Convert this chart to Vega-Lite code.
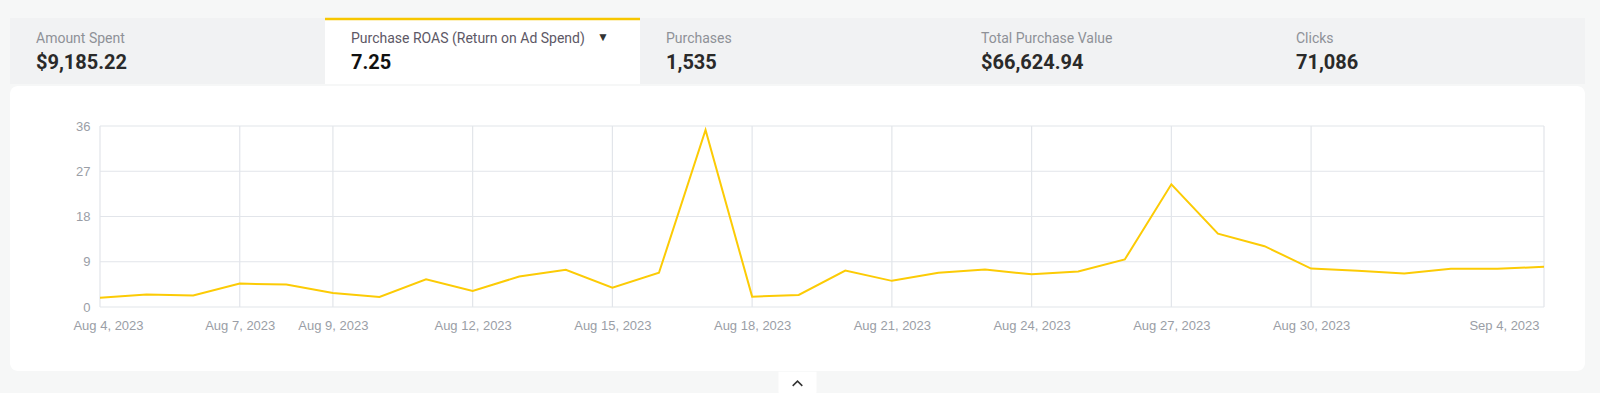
{
  "$schema": "https://vega.github.io/schema/vega-lite/v6.json",
  "background": "#f6f7f7",
  "padding": {"left": 10, "top": 17, "right": 15, "bottom": 0},
  "spacing": 0,
  "config": {"view": {"stroke": null}, "font": "Roboto", "concat": {"spacing": 0}},
  "vconcat": [
    {
      "width": 1575,
      "height": 66,
      "data": {"values": [
        {"kpi": "Amount Spent", "value": "$9,185.22", "selected": false},
        {"kpi": "Purchase ROAS (Return on Ad Spend)", "value": "7.25", "selected": true},
        {"kpi": "Purchases", "value": "1,535", "selected": false},
        {"kpi": "Total Purchase Value", "value": "$66,624.94", "selected": false},
        {"kpi": "Clicks", "value": "71,086", "selected": false}
      ]},
      "encoding": {
        "x": {"field": "kpi", "type": "nominal", "sort": null, "scale": {"paddingInner": 0, "paddingOuter": 0}, "axis": null}
      },
      "layer": [
        {
          "mark": {"type": "rect"},
          "encoding": {"fill": {"condition": {"test": "datum.selected", "value": "#ffffff"}, "value": "#f1f2f3"}}
        },
        {
          "transform": [{"filter": "datum.selected"}],
          "mark": {"type": "rect", "fillOpacity": 0, "stroke": "#f7c600", "strokeWidth": 2.5, "strokeDash": [315, 3000], "yOffset": 1}
        },
        {
          "mark": {"type": "text", "align": "left", "baseline": "alphabetic", "dx": 26, "dy": -8.3, "fontSize": 14},
          "encoding": {
            "x": {"field": "kpi", "type": "nominal", "sort": null, "bandPosition": 0},
            "text": {"field": "kpi"},
            "color": {"condition": {"test": "datum.selected", "value": "#5d5866"}, "value": "#8e9197"}
          }
        },
        {
          "mark": {"type": "text", "align": "left", "baseline": "alphabetic", "dx": 26, "dy": 17.7, "fontSize": 20, "fontWeight": "bold"},
          "encoding": {
            "x": {"field": "kpi", "type": "nominal", "sort": null, "bandPosition": 0},
            "text": {"field": "value"},
            "color": {"condition": {"test": "datum.selected", "value": "#111111"}, "value": "#2a2a2a"}
          }
        },
        {
          "transform": [{"filter": "datum.selected"}],
          "mark": {"type": "text", "text": "▼", "align": "left", "baseline": "alphabetic", "dx": 272, "dy": -10, "fontSize": 12, "color": "#333333"},
          "encoding": {
            "x": {"field": "kpi", "type": "nominal", "sort": null, "bandPosition": 0}
          }
        }
      ]
    },
    {
      "width": 1575,
      "height": 285,
      "view": {"fill": "#ffffff", "stroke": null, "cornerRadius": 8},
      "layer": [
        {
          "data": {"values": [{"v": 0}, {"v": 9}, {"v": 18}, {"v": 27}, {"v": 36}]},
          "mark": {"type": "rule", "color": "#e2e5ea", "strokeWidth": 1.2},
          "encoding": {
            "y": {"field": "v", "type": "quantitative"},
            "x": {"datum": {"year": 2023, "month": 8, "date": 4, "utc": true}, "type": "temporal"},
            "x2": {"datum": {"year": 2023, "month": 9, "date": 4, "utc": true}}
          }
        },
        {
          "data": {"values": [
            {"date": "2023-08-04"}, {"date": "2023-08-07"}, {"date": "2023-08-09"}, {"date": "2023-08-12"},
            {"date": "2023-08-15"}, {"date": "2023-08-18"}, {"date": "2023-08-21"}, {"date": "2023-08-24"},
            {"date": "2023-08-27"}, {"date": "2023-08-30"}, {"date": "2023-09-04"}
          ]},
          "mark": {"type": "rule", "color": "#e2e5ea", "strokeWidth": 1.2},
          "encoding": {
            "x": {"field": "date", "type": "temporal"},
            "y": {"datum": 0, "type": "quantitative"},
            "y2": {"datum": 36}
          }
        },
        {
          "data": {"values": [
            {"date": "2023-08-04", "roas": 1.86},
            {"date": "2023-08-05", "roas": 2.5},
            {"date": "2023-08-06", "roas": 2.3},
            {"date": "2023-08-07", "roas": 4.66},
            {"date": "2023-08-08", "roas": 4.46},
            {"date": "2023-08-09", "roas": 2.8},
            {"date": "2023-08-10", "roas": 2.0},
            {"date": "2023-08-11", "roas": 5.5},
            {"date": "2023-08-12", "roas": 3.2},
            {"date": "2023-08-13", "roas": 6.05},
            {"date": "2023-08-14", "roas": 7.4},
            {"date": "2023-08-15", "roas": 3.86},
            {"date": "2023-08-16", "roas": 6.8},
            {"date": "2023-08-17", "roas": 35.2},
            {"date": "2023-08-18", "roas": 2.06},
            {"date": "2023-08-19", "roas": 2.4},
            {"date": "2023-08-20", "roas": 7.25},
            {"date": "2023-08-21", "roas": 5.2},
            {"date": "2023-08-22", "roas": 6.8},
            {"date": "2023-08-23", "roas": 7.45},
            {"date": "2023-08-24", "roas": 6.5},
            {"date": "2023-08-25", "roas": 7.05},
            {"date": "2023-08-26", "roas": 9.45},
            {"date": "2023-08-27", "roas": 24.4},
            {"date": "2023-08-28", "roas": 14.6},
            {"date": "2023-08-29", "roas": 12.1},
            {"date": "2023-08-30", "roas": 7.65},
            {"date": "2023-08-31", "roas": 7.2},
            {"date": "2023-09-01", "roas": 6.65},
            {"date": "2023-09-02", "roas": 7.6},
            {"date": "2023-09-03", "roas": 7.6},
            {"date": "2023-09-04", "roas": 8.0}
          ]},
          "mark": {"type": "line", "color": "#fccb05", "strokeWidth": 2},
          "encoding": {
            "x": {
              "field": "date", "type": "temporal",
              "scale": {"type": "utc", "range": [90, 1534]},
              "axis": {
                "title": null,
                "orient": "bottom",
                "offset": -64,
                "values": [
                  {"year": 2023, "month": 8, "date": 4, "utc": true},
                  {"year": 2023, "month": 8, "date": 7, "utc": true},
                  {"year": 2023, "month": 8, "date": 9, "utc": true},
                  {"year": 2023, "month": 8, "date": 12, "utc": true},
                  {"year": 2023, "month": 8, "date": 15, "utc": true},
                  {"year": 2023, "month": 8, "date": 18, "utc": true},
                  {"year": 2023, "month": 8, "date": 21, "utc": true},
                  {"year": 2023, "month": 8, "date": 24, "utc": true},
                  {"year": 2023, "month": 8, "date": 27, "utc": true},
                  {"year": 2023, "month": 8, "date": 30, "utc": true},
                  {"year": 2023, "month": 9, "date": 4, "utc": true}
                ],
                "format": "%b %-d, %Y",
                "domain": false,
                "ticks": false,
                "grid": false,
                "labelFlush": false,
                "labelOverlap": false,
                "labelPadding": 12,
                "labelColor": "#9a9ea6",
                "labelFontSize": 13,
                "labelFont": "Liberation Sans",
                "labelOffset": {"expr": "datum.index == 0 ? 8 : datum.index == 1 ? -40 : 0"}
              }
            },
            "y": {
              "field": "roas", "type": "quantitative",
              "scale": {"domain": [0, 36], "range": [221, 40], "nice": false, "zero": true},
              "axis": {
                "title": null,
                "offset": -90,
                "values": [0, 9, 18, 27, 36],
                "domain": false,
                "ticks": false,
                "grid": false,
                "labelPadding": 10,
                "labelColor": "#9a9ea6",
                "labelFontSize": 13,
                "labelFont": "Liberation Sans"
              }
            }
          }
        }
      ]
    },
    {
      "width": 1575,
      "height": 25,
      "data": {"values": [{"button": "collapse"}]},
      "layer": [
        {
          "mark": {"type": "point", "shape": "M -1 -0.62 L 1 -0.62 L 1 0.42 Q 1 0.62 0.8 0.62 L -0.8 0.62 Q -1 0.62 -1 0.42 Z", "size": 1444, "filled": true, "fill": "#ffffff", "opacity": 1, "strokeWidth": 0},
          "encoding": {}
        },
        {
          "mark": {"type": "point", "shape": "M -0.6 0.3 L 0 -0.3 L 0.6 0.3", "size": 256, "filled": false, "stroke": "#333333", "strokeWidth": 1.5, "opacity": 1},
          "encoding": {}
        }
      ]
    }
  ]
}
